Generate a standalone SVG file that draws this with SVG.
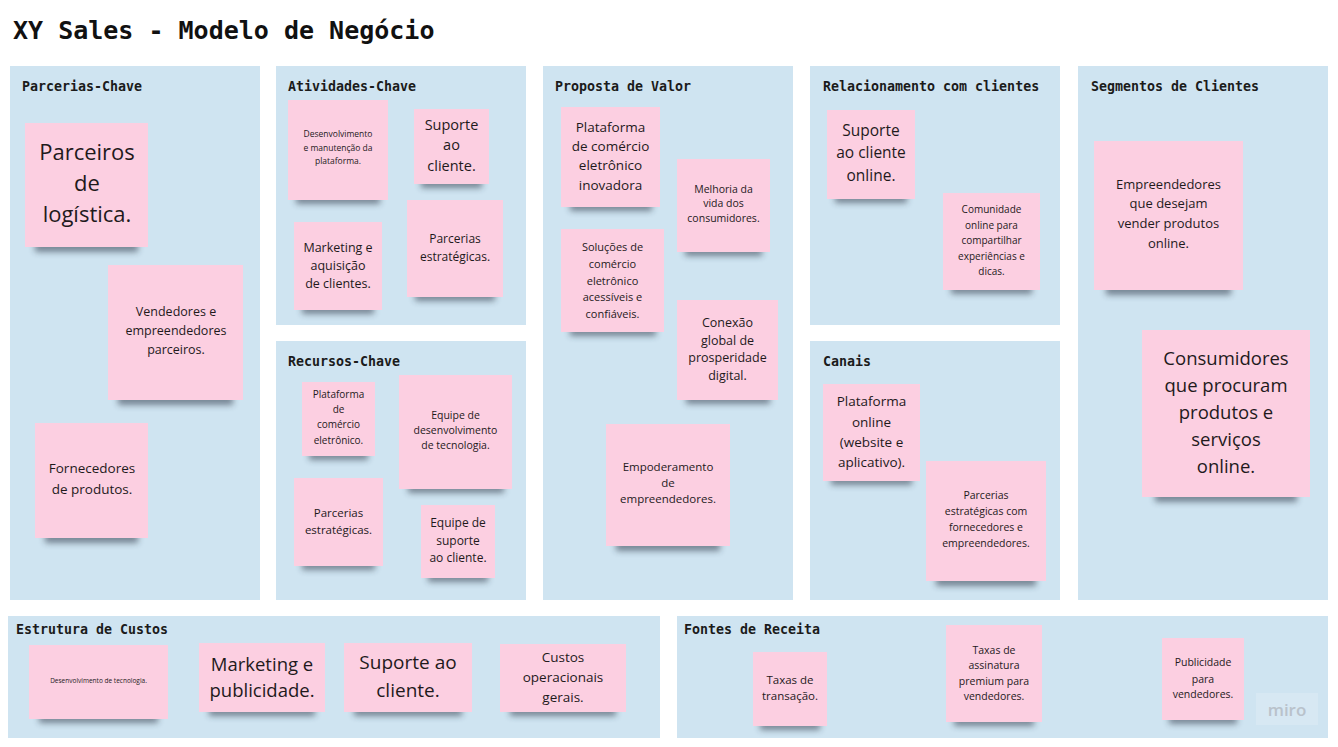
<svg xmlns="http://www.w3.org/2000/svg" width="1338" height="747" viewBox="0 0 1338 747">
<defs>
<filter id="blur" x="-20%" y="-100%" width="140%" height="300%"><feGaussianBlur stdDeviation="3"/></filter>
<style>
.panel{fill:#cfe4f1}
.note{fill:#fccfe1}
.sh{fill:#2a3645;opacity:.55;filter:url(#blur)}
.h{font-family:"DejaVu Sans Mono","Liberation Mono",monospace;font-weight:bold;font-size:13.3px;fill:#1b1b1b}
.title{font-family:"DejaVu Sans Mono","Liberation Mono",monospace;font-weight:bold;font-size:25px;fill:#111}
.t{font-family:"Open Sans","Noto Sans",sans-serif;fill:#1f1a1c;text-anchor:middle}
</style>
</defs>
<rect width="1338" height="747" fill="#ffffff"/>
<text class="title" x="13" y="39">XY Sales - Modelo de Negócio</text>

<g id="panels">
<rect class="panel" x="10" y="66" width="250" height="534"/>
<rect class="panel" x="276" y="66" width="250" height="259"/>
<rect class="panel" x="276" y="341" width="250" height="259"/>
<rect class="panel" x="543" y="66" width="250" height="534"/>
<rect class="panel" x="810" y="66" width="250" height="259"/>
<rect class="panel" x="810" y="341" width="250" height="259"/>
<rect class="panel" x="1078" y="66" width="250" height="534"/>
<rect class="panel" x="8" y="616" width="652" height="122"/>
<rect class="panel" x="677" y="616" width="651" height="122"/>
<text class="h" x="22" y="91">Parcerias-Chave</text>
<text class="h" x="288" y="91">Atividades-Chave</text>
<text class="h" x="288" y="366">Recursos-Chave</text>
<text class="h" x="555" y="91">Proposta de Valor</text>
<text class="h" x="823" y="91">Relacionamento com clientes</text>
<text class="h" x="1091" y="91">Segmentos de Clientes</text>
<text class="h" x="823" y="366">Canais</text>
<text class="h" x="16" y="634">Estrutura de Custos</text>
<text class="h" x="684" y="634">Fontes de Receita</text>
</g>

<g id="connectors"></g>

<!-- Parcerias-Chave -->
<g id="pc1"><rect class="sh" x="35" y="242" width="103" height="10"/><rect class="note" x="25" y="123" width="123" height="124"/>
<text class="t" font-size="22"><tspan x="87" y="160">Parceiros</tspan><tspan x="87" y="191">de</tspan><tspan x="87" y="222">logística.</tspan></text></g>
<g id="pc2"><rect class="sh" x="118" y="395" width="115" height="10"/><rect class="note" x="108" y="265" width="135" height="135"/>
<text class="t" font-size="12.5"><tspan x="176" y="316">Vendedores e</tspan><tspan x="176" y="335">empreendedores</tspan><tspan x="176" y="354">parceiros.</tspan></text></g>
<g id="pc3"><rect class="sh" x="45" y="533" width="93" height="10"/><rect class="note" x="35" y="423" width="113" height="115"/>
<text class="t" font-size="13.5"><tspan x="92" y="473">Fornecedores</tspan><tspan x="92" y="494">de produtos.</tspan></text></g>

<!-- Atividades-Chave -->
<g id="ac1"><rect class="sh" x="296" y="195" width="84" height="9"/><rect class="note" x="288" y="100" width="100" height="100"/>
<text class="t" font-size="8.5"><tspan x="338" y="137">Desenvolvimento</tspan><tspan x="338" y="151">e manutenção da</tspan><tspan x="338" y="164">plataforma.</tspan></text></g>
<g id="ac2"><rect class="sh" x="421" y="179" width="61" height="9"/><rect class="note" x="414" y="109" width="75" height="75"/>
<text class="t" font-size="14.5"><tspan x="451.5" y="130">Suporte</tspan><tspan x="451.5" y="150">ao</tspan><tspan x="451.5" y="171">cliente.</tspan></text></g>
<g id="ac3"><rect class="sh" x="302" y="305" width="72" height="9"/><rect class="note" x="294" y="222" width="88" height="88"/>
<text class="t" font-size="12.5"><tspan x="338" y="252">Marketing e</tspan><tspan x="338" y="270">aquisição</tspan><tspan x="338" y="288">de clientes.</tspan></text></g>
<g id="ac4"><rect class="sh" x="415" y="292" width="80" height="9"/><rect class="note" x="407" y="200" width="96" height="97"/>
<text class="t" font-size="12"><tspan x="455" y="243">Parcerias</tspan><tspan x="455" y="261">estratégicas.</tspan></text></g>

<!-- Recursos-Chave -->
<g id="rc1"><rect class="sh" x="309" y="451" width="59" height="9"/><rect class="note" x="302" y="382" width="73" height="74"/>
<text class="t" font-size="10"><tspan x="338.5" y="398">Plataforma</tspan><tspan x="338.5" y="413">de</tspan><tspan x="338.5" y="428">comércio</tspan><tspan x="338.5" y="444">eletrônico.</tspan></text></g>
<g id="rc2"><rect class="sh" x="408" y="484" width="96" height="9"/><rect class="note" x="399" y="375" width="113" height="114"/>
<text class="t" font-size="10.5"><tspan x="455.5" y="419">Equipe de</tspan><tspan x="455.5" y="434">desenvolvimento</tspan><tspan x="455.5" y="449">de tecnologia.</tspan></text></g>
<g id="rc3"><rect class="sh" x="302" y="561" width="73" height="9"/><rect class="note" x="294" y="478" width="89" height="88"/>
<text class="t" font-size="11.5"><tspan x="338.5" y="517">Parcerias</tspan><tspan x="338.5" y="534">estratégicas.</tspan></text></g>
<g id="rc4"><rect class="sh" x="428" y="573" width="60" height="9"/><rect class="note" x="421" y="505" width="74" height="73"/>
<text class="t" font-size="12"><tspan x="458" y="527">Equipe de</tspan><tspan x="458" y="545">suporte</tspan><tspan x="458" y="562">ao cliente.</tspan></text></g>

<!-- Proposta de Valor -->
<g id="pv1"><rect class="sh" x="570" y="202" width="82" height="9"/><rect class="note" x="561" y="107" width="99" height="100"/>
<text class="t" font-size="13.5"><tspan x="610.5" y="132">Plataforma</tspan><tspan x="610.5" y="151">de comércio</tspan><tspan x="610.5" y="170">eletrônico</tspan><tspan x="610.5" y="190">inovadora</tspan></text></g>
<g id="pv2"><rect class="sh" x="685" y="247" width="77" height="9"/><rect class="note" x="677" y="159" width="93" height="93"/>
<text class="t" font-size="10.5"><tspan x="723.5" y="193">Melhoria da</tspan><tspan x="723.5" y="207">vida dos</tspan><tspan x="723.5" y="222">consumidores.</tspan></text></g>
<g id="pv3"><rect class="sh" x="570" y="327" width="86" height="9"/><rect class="note" x="561" y="229" width="103" height="103"/>
<text class="t" font-size="11"><tspan x="612.5" y="251">Soluções de</tspan><tspan x="612.5" y="268">comércio</tspan><tspan x="612.5" y="285">eletrônico</tspan><tspan x="612.5" y="301">acessíveis e</tspan><tspan x="612.5" y="318">confiáveis.</tspan></text></g>
<g id="pv4"><rect class="sh" x="686" y="395" width="84" height="9"/><rect class="note" x="677" y="300" width="101" height="100"/>
<text class="t" font-size="12.5"><tspan x="727.5" y="327">Conexão</tspan><tspan x="727.5" y="345">global de</tspan><tspan x="727.5" y="362">prosperidade</tspan><tspan x="727.5" y="380">digital.</tspan></text></g>
<g id="pv5"><rect class="sh" x="616" y="541" width="104" height="10"/><rect class="note" x="606" y="424" width="124" height="122"/>
<text class="t" font-size="11.5"><tspan x="668" y="471">Empoderamento</tspan><tspan x="668" y="487">de</tspan><tspan x="668" y="503">empreendedores.</tspan></text></g>

<!-- Relacionamento -->
<g id="rl1"><rect class="sh" x="835" y="194" width="72" height="9"/><rect class="note" x="827" y="110" width="88" height="89"/>
<text class="t" font-size="15.5"><tspan x="871" y="136">Suporte</tspan><tspan x="871" y="158">ao cliente</tspan><tspan x="871" y="181">online.</tspan></text></g>
<g id="rl2"><rect class="sh" x="951" y="285" width="81" height="9"/><rect class="note" x="943" y="193" width="97" height="97"/>
<text class="t" font-size="10"><tspan x="991.5" y="213">Comunidade</tspan><tspan x="991.5" y="229">online para</tspan><tspan x="991.5" y="244">compartilhar</tspan><tspan x="991.5" y="260">experiências e</tspan><tspan x="991.5" y="275">dicas.</tspan></text></g>

<!-- Canais -->
<g id="cn1"><rect class="sh" x="831" y="476" width="81" height="9"/><rect class="note" x="823" y="384" width="97" height="97"/>
<text class="t" font-size="13.5"><tspan x="871.5" y="406">Plataforma</tspan><tspan x="871.5" y="427">online</tspan><tspan x="871.5" y="447">(website e</tspan><tspan x="871.5" y="467">aplicativo).</tspan></text></g>
<g id="cn2"><rect class="sh" x="936" y="576" width="100" height="10"/><rect class="note" x="926" y="461" width="120" height="120"/>
<text class="t" font-size="10.5"><tspan x="986" y="499">Parcerias</tspan><tspan x="986" y="515">estratégicas com</tspan><tspan x="986" y="531">fornecedores e</tspan><tspan x="986" y="547">empreendedores.</tspan></text></g>

<!-- Segmentos -->
<g id="sg1"><rect class="sh" x="1106" y="285" width="125" height="10"/><rect class="note" x="1094" y="141" width="149" height="149"/>
<text class="t" font-size="13"><tspan x="1168.5" y="189">Empreendedores</tspan><tspan x="1168.5" y="208">que desejam</tspan><tspan x="1168.5" y="228">vender produtos</tspan><tspan x="1168.5" y="248">online.</tspan></text></g>
<g id="sg2"><rect class="sh" x="1155" y="492" width="142" height="10"/><rect class="note" x="1142" y="330" width="168" height="167"/>
<text class="t" font-size="18.5"><tspan x="1226" y="365">Consumidores</tspan><tspan x="1226" y="392">que procuram</tspan><tspan x="1226" y="419">produtos e</tspan><tspan x="1226" y="446">serviços</tspan><tspan x="1226" y="473">online.</tspan></text></g>

<!-- Estrutura de Custos -->
<g id="ec1"><rect class="sh" x="39" y="714" width="119" height="9"/><rect class="note" x="29" y="645" width="139" height="74"/>
<text class="t" font-size="6.5"><tspan x="98.5" y="683">Desenvolvimento de tecnologia.</tspan></text></g>
<g id="ec2"><rect class="sh" x="209" y="707" width="106" height="9"/><rect class="note" x="199" y="643" width="126" height="69"/>
<text class="t" font-size="18.5"><tspan x="262" y="671">Marketing e</tspan><tspan x="262" y="697">publicidade.</tspan></text></g>
<g id="ec3"><rect class="sh" x="354" y="707" width="108" height="9"/><rect class="note" x="344" y="643" width="128" height="69"/>
<text class="t" font-size="19"><tspan x="408" y="669">Suporte ao</tspan><tspan x="408" y="697">cliente.</tspan></text></g>
<g id="ec4"><rect class="sh" x="510" y="707" width="106" height="9"/><rect class="note" x="500" y="644" width="126" height="68"/>
<text class="t" font-size="13.5"><tspan x="563" y="662">Custos</tspan><tspan x="563" y="682">operacionais</tspan><tspan x="563" y="702">gerais.</tspan></text></g>

<!-- Fontes de Receita -->
<g id="fr1"><rect class="sh" x="760" y="721" width="60" height="9"/><rect class="note" x="753" y="652" width="74" height="74"/>
<text class="t" font-size="11.5"><tspan x="790" y="684">Taxas de</tspan><tspan x="790" y="700">transação.</tspan></text></g>
<g id="fr2"><rect class="sh" x="954" y="717" width="80" height="9"/><rect class="note" x="946" y="625" width="96" height="97"/>
<text class="t" font-size="10.5"><tspan x="994" y="654">Taxas de</tspan><tspan x="994" y="669">assinatura</tspan><tspan x="994" y="685">premium para</tspan><tspan x="994" y="700">vendedores.</tspan></text></g>
<g id="fr3"><rect class="sh" x="1169" y="715" width="68" height="9"/><rect class="note" x="1162" y="638" width="82" height="82"/>
<text class="t" font-size="10.5"><tspan x="1203" y="666">Publicidade</tspan><tspan x="1203" y="683">para</tspan><tspan x="1203" y="698">vendedores.</tspan></text></g>

<g id="miro"><rect x="1256" y="693" width="62" height="32" fill="#d7e8f3"/>
<text x="1287" y="716" font-family="'Open Sans','Noto Sans',sans-serif" font-size="17" font-weight="600" fill="#b9c2cb" text-anchor="middle">miro</text></g>
</svg>
